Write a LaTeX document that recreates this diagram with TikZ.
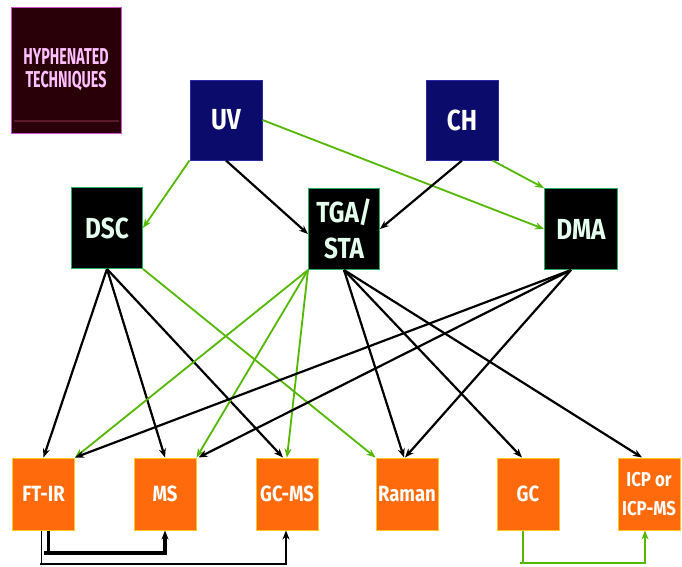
\documentclass[tikz,border=0pt]{standalone}
\usepackage{fontspec}
\usetikzlibrary{arrows.meta,calc}
\newfontfamily\labfont[FakeStretch=0.84]{Fira Sans}
\newfontfamily\hyfont[FakeStretch=0.62]{Fira Sans}
\definecolor{navyfill}{HTML}{0B0B6C}
\definecolor{navyedge}{HTML}{2A2AA8}
\definecolor{darkedge}{HTML}{22B060}
\definecolor{orangefill}{HTML}{FF6A0C}
\definecolor{orangeedge}{HTML}{FFC81E}
\definecolor{maroonfill}{HTML}{2A0008}
\definecolor{maroonline}{HTML}{5A1A2A}
\definecolor{pinkedge}{HTML}{D050D0}
\definecolor{linegreen}{HTML}{55B800}
\definecolor{minttext}{HTML}{E4FFEE}
\definecolor{pinktext}{HTML}{FFC0FF}
\tikzset{
  x=1pt,y=-1pt,
  tip/.style={-{Stealth[length=9pt,width=7pt]}},
  navybox/.style={draw=navyedge,fill=navyfill,line width=1pt,minimum width=72pt,minimum height=80pt,inner sep=0pt,text=white,font=\labfont\bfseries\fontsize{29}{34}\selectfont,align=center},
  darkbox/.style={draw=darkedge,fill=black,line width=1pt,minimum width=71pt,minimum height=81pt,inner sep=0pt,text=minttext,font=\labfont\bfseries\fontsize{29}{36}\selectfont,align=center},
  orbox/.style={draw=orangeedge,fill=orangefill,line width=1pt,minimum width=62pt,minimum height=72pt,inner sep=0pt,text=white,font=\labfont\bfseries\fontsize{22}{30}\selectfont,align=center},
  blk/.style={tip,draw=black,line width=2.2pt},
  grn/.style={tip,draw=linegreen,line width=1.8pt},
}
\begin{document}
\begin{tikzpicture}
\useasboundingbox[fill=white] (0,0) rectangle (682,566);
% legend box
\node[draw=pinkedge,fill=maroonfill,line width=1pt,minimum width=110pt,minimum height=126pt,inner sep=0pt] (hy) at (66,70) {};
\draw[draw=maroonline,line width=1.5pt] (14,121) -- (119,121);
\node[text=pinktext,font=\hyfont\bfseries\fontsize{23}{23}\selectfont,align=center] (hyt) at (66,70) {HYPHENATED\\TECHNIQUES};
% top
\node[navybox] (UV) at (226,120) {UV};
\node[navybox] (CH) at (462,120) {CH};
% middle
\node[darkbox] (DSC) at (107,228) {DSC};
\node[darkbox] (TGA) at (344,229) {TGA/\\STA};
\node[darkbox,minimum width=73pt] (DMA) at (581,229) {DMA};
% bottom
\node[orbox] (FTIR) at (43.5,494) {FT-IR};
\node[orbox] (MS) at (165,494) {MS};
\node[orbox] (GCMS) at (287,494) {GC-MS};
\node[orbox] (Raman) at (407,494) {Raman};
\node[orbox] (GC) at (528,494) {GC};
\node[orbox,font=\labfont\bfseries\fontsize{20}{29}\selectfont] (ICP) at (649,494) {ICP or\\ICP-MS};
% top level connectors
\draw[grn] (UV.south west) -- (DSC.east);
\draw[blk] (UV.south) -- ($(TGA.west)+(0,5)$);
\draw[grn] (UV.east) -- (DMA.west);
\draw[blk] (CH.south) -- (TGA.east);
\draw[grn] ($(CH.south east)+(-6,0)$) -- (DMA.north west);
% DSC
\draw[blk] (DSC.south) -- (FTIR.north);
\draw[blk] (DSC.south) -- (MS.north);
\draw[blk] (DSC.south) -- ($(GCMS.north)+(-4,0)$);
\draw[grn] (DSC.south east) -- (Raman.north west);
% TGA
\draw[grn] (TGA.south west) -- (FTIR.north east);
\draw[grn] (TGA.south west) -- (MS.north east);
\draw[grn] (TGA.south west) -- (GCMS.north);
\draw[blk] (TGA.south) -- ($(Raman.north)+(-3,0)$);
\draw[blk] (TGA.south) -- ($(GC.north)+(-6,0)$);
\draw[blk] (TGA.south) -- ($(ICP.north)+(-7,0)$);
% DMA
\draw[blk] ($(DMA.south)+(-10,0)$) -- (FTIR.north east);
\draw[blk] ($(DMA.south)+(-10,0)$) -- ($(MS.north east)+(2,0)$);
\draw[blk] ($(DMA.south)+(-10,0)$) -- ($(Raman.north)+(-2,0)$);
% bottom connectors
\draw[line width=3.2pt,-{Stealth[length=9pt,width=7pt]}] ($(FTIR.south)+(5,0)$) |- (44,553) -| (MS.south);
\draw[blk,line width=1.8pt] ($(FTIR.south)+(-2,0)$) |- (40,564) -| ($(GCMS.south)+(-1,0)$);
\draw[grn] ($(GC.south)+(-5,0)$) |- (520,563) -| ($(ICP.south)+(-4,0)$);
\end{tikzpicture}
\end{document}
